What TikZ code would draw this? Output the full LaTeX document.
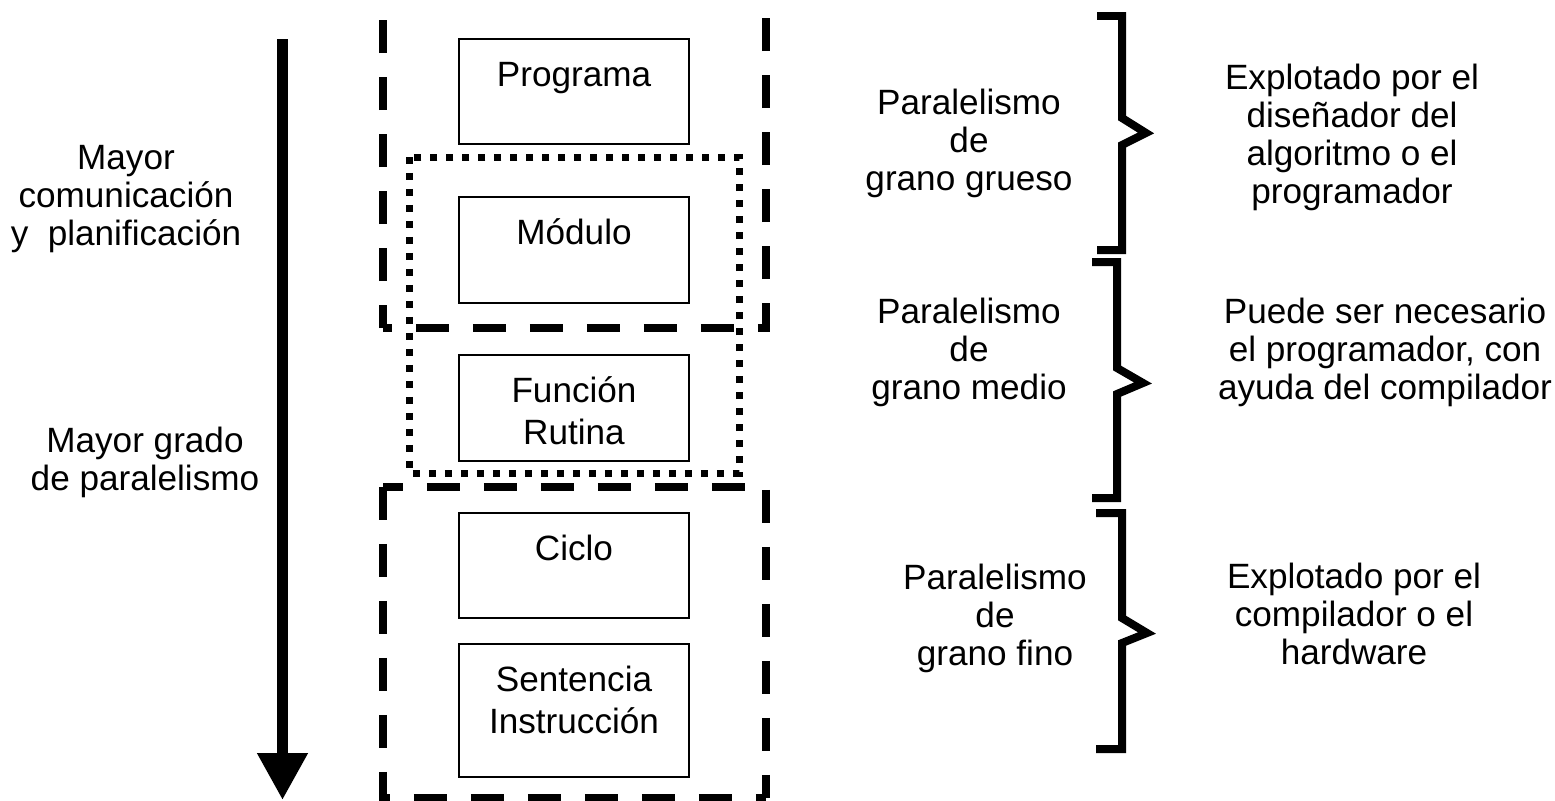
\documentclass[tikz,border=0pt]{standalone}
\usepackage{fontspec}
\setmainfont{Liberation Sans}
\usetikzlibrary{positioning,calc,arrows.meta}

\begin{document}
\begin{tikzpicture}[
    x=0.02cm,y=-0.02cm,
    >={Triangle[length=0.94cm,width=0.96cm]},
    txt/.style={align=center,inner sep=0pt,font=\fontsize{20}{21.6}\selectfont},
    boxtxt/.style={txt,anchor=base,font=\fontsize{20}{23.9}\selectfont},
    level/.style={rectangle,draw,line width=0.05cm,minimum width=4.6cm,inner sep=0pt},
    dashbox/.style={line width=0.17cm,dash pattern=on 0.66cm off 0.48cm},
    dotbox/.style={line width=0.14cm,dash pattern=on 0.14cm off 0.18cm},
    brace/.style={line width=0.16cm,line join=miter},
    downarrow/.style={->,line width=0.22cm},
]
\useasboundingbox (0,0) rectangle (1555,801);

% === LEVEL BOXES ===
\node[level,minimum height=2.1cm]  (prog)  at (574,91.5)  {};
\node[level,minimum height=2.12cm] (mod)   at (574,250)   {};
\node[level,minimum height=2.12cm] (func)  at (574,408)   {};
\node[level,minimum height=2.1cm]  (ciclo) at (574,565.5) {};
\node[level,minimum height=2.66cm] (sent)  at (574,710.5) {};

% base anchor sits on the last line
\node[boxtxt] (progtxt)  at ($(prog.north)+(0,49)$)  {Programa};
\node[boxtxt] (modtxt)   at ($(mod.north)+(0,49)$)   {Módulo};
\node[boxtxt] (functxt)  at ($(func.north)+(0,91)$)  {Función\\Rutina};
\node[boxtxt] (ciclotxt) at ($(ciclo.north)+(0,49)$) {Ciclo};
\node[boxtxt] (senttxt)  at ($(sent.north)+(0,91)$)  {Sentencia\\Instrucción};

% === GRAIN GROUPS ===
% coarse group (top edge runs off the page)
\draw[dashbox,dash phase=0.48cm] (383,328) -- (766,328) -- (766,-20);
\draw[dashbox,dash phase=0.2cm]  (383,328) -- (383,-20);
% fine group
\draw[dashbox,dash phase=0.26cm] (383,487) -- (766,487) -- (766,798);
\draw[dashbox] (383,487) -- (383,798) -- (766,798);
% medium group
\draw[dotbox] (409,157) rectangle (739,473);

% === DOWN ARROW ===
\coordinate (arrtop) at (282.5,39);
\coordinate (arrbot) at (282.5,800);
\draw[downarrow] (arrtop) -- (arrbot);

\node[txt] (comm) at (126,198.75) {Mayor\\comunicación\\y\ \ planificación};
\node[txt] (par)  at (145,462.75) {Mayor grado\\de paralelismo};

% === BRACES ===
\draw[brace] (1097,16) -- (1122,16) -- (1122,118) -- (1146,133) -- (1122,145) -- (1122,250) -- (1097,250);
\draw[brace] (1092,262) -- (1117,262) -- (1117,368) -- (1143,383) -- (1117,394) -- (1117,498) -- (1092,498);
\draw[brace] (1096,513) -- (1122,513) -- (1122,618) -- (1147,633) -- (1122,643) -- (1122,749) -- (1096,749);

% Grain labels
\node[txt] (coarse) at (969,143) {Paralelismo\\de\\grano grueso};
\node[txt] (medium) at (969,352) {Paralelismo\\de\\grano medio};
\node[txt] (fine)   at (995,618) {Paralelismo\\de\\grano fino};

% Who exploits it
\node[txt] (byprog) at (1352,137) {Explotado por el\\diseñador del\\algoritmo o el\\programador};
\node[txt] (bycomp) at (1385,352) {Puede ser necesario\\el programador, con\\ayuda del compilador};
\node[txt] (byhw)   at (1354,614) {Explotado por el\\compilador o el\\hardware};

\end{tikzpicture}
\end{document}
